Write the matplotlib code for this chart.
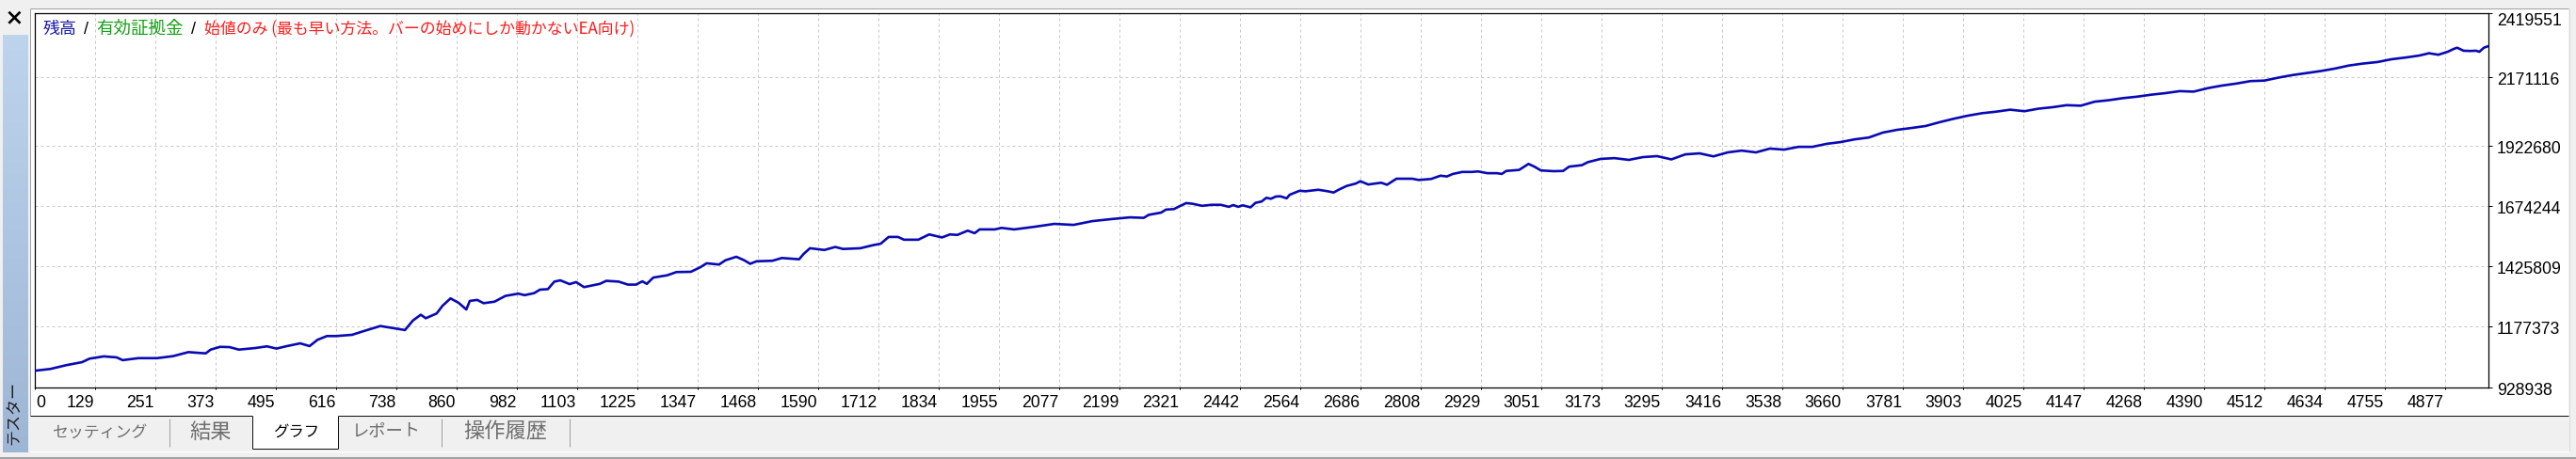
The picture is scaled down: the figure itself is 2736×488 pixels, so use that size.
import numpy as np
import matplotlib
matplotlib.use("Agg")
import matplotlib.pyplot as plt
from matplotlib.transforms import blended_transform_factory, offset_copy
from matplotlib.lines import Line2D
from matplotlib.patches import Rectangle

# ---------------- data ----------------
bars = [0, 31, 63, 95, 110, 139, 165, 177, 209, 247, 279, 310, 345, 355, 374, 393, 412, 444, 469, 488,
        507, 536, 555, 571, 590, 609, 641, 660, 698, 729, 748, 764, 780, 790, 812, 824, 840, 856, 872, 879,
        894, 907, 929, 951, 977,
        990, 1009, 1021, 1037, 1050, 1062, 1081, 1094, 1110, 1142, 1155, 1180, 1199, 1215, 1228, 1237, 1250,
        1278, 1297, 1326, 1345, 1358, 1383, 1396, 1418, 1434, 1446, 1459, 1491, 1510, 1545, 1554, 1567, 1596,
        1618, 1634, 1669, 1694, 1710, 1726, 1745, 1757, 1786, 1808, 1834, 1850, 1865, 1886, 1900, 1910, 1941,
        1954, 1980,
        2023, 2061, 2100, 2138, 2176,
        2214, 2242, 2252, 2277, 2287, 2303, 2315, 2328, 2341, 2360, 2379, 2398, 2414, 2423, 2433, 2442, 2458,
        2468, 2480, 2490, 2499, 2509, 2518, 2531, 2537, 2557, 2569, 2595, 2614, 2626, 2636, 2652, 2671, 2680,
        2696, 2722, 2734, 2753, 2772, 2785, 2798, 2823, 2842, 2855, 2867, 2886, 2905, 2918, 2937, 2956, 2966,
        2975, 3001, 3020, 3032, 3045, 3071, 3090, 3102, 3128, 3140, 3166,
        3194, 3223, 3251, 3280, 3309, 3337, 3366, 3394, 3423, 3451, 3480, 3508, 3537, 3566, 3594, 3623, 3651,
        3680, 3708, 3737, 3766, 3794, 3823, 3851, 3880, 3908, 3937, 3965, 3994, 4023, 4051, 4080, 4108, 4137,
        4165, 4194, 4222, 4251, 4280, 4308, 4337, 4365, 4394, 4422, 4451, 4480, 4508, 4537, 4565, 4594, 4622,
        4651, 4679, 4708, 4737, 4765, 4794, 4822, 4841, 4860, 4879, 4892, 4898, 4911, 4924, 4936, 4943, 4952,
        4959]

balance_k = [996, 1003, 1018, 1030, 1044, 1053, 1049, 1038, 1046, 1046, 1054, 1070, 1065, 1080, 1091, 1090,
             1080, 1086, 1093, 1084, 1093, 1105, 1094, 1119, 1134, 1134, 1139, 1151, 1174, 1164, 1158, 1196,
             1219, 1205, 1224, 1255, 1284, 1267, 1240, 1274, 1278, 1265, 1271, 1294, 1303,
             1297, 1305, 1319, 1321, 1351, 1356, 1341, 1349, 1329, 1342, 1354, 1351, 1339, 1339, 1352, 1342,
             1367, 1376, 1389, 1390, 1408, 1424, 1419, 1436, 1450, 1436, 1422, 1432, 1434, 1445, 1440, 1461,
             1484, 1477, 1489, 1481, 1484, 1496, 1502, 1529, 1529, 1518, 1518, 1539, 1527, 1539, 1537, 1554,
             1544, 1559, 1559, 1565, 1559,
             1570, 1581, 1577, 1592, 1600,
             1607, 1605, 1617, 1626, 1638, 1640, 1652, 1664, 1661, 1653, 1657, 1657, 1649, 1656, 1649, 1655,
             1647, 1665, 1670, 1685, 1681, 1690, 1691, 1683, 1697, 1713, 1711, 1717, 1711, 1706, 1717, 1732,
             1742, 1751, 1738, 1745, 1737, 1761, 1761, 1761, 1756, 1760, 1773, 1770, 1780, 1788, 1788, 1790,
             1783, 1783, 1780, 1792, 1796, 1820, 1809, 1794, 1791, 1792, 1809, 1815, 1827, 1840,
             1843, 1836, 1847, 1851, 1838, 1858, 1862, 1850, 1866, 1873, 1866, 1881, 1877, 1888, 1888, 1900,
             1907, 1918, 1925, 1945, 1956, 1963, 1971, 1986, 2000, 2012, 2022, 2028, 2036, 2030, 2040, 2046,
             2054, 2052, 2068, 2074, 2082, 2088, 2096, 2102, 2110, 2108, 2122, 2132, 2140, 2150, 2152, 2164,
             2174, 2182, 2190, 2200, 2212, 2220, 2226, 2237, 2244, 2252, 2261, 2255, 2267, 2279, 2283, 2271,
             2270, 2271, 2267, 2283, 2288]

x_tick_labels = ["0", "129", "251", "373", "495", "616", "738", "860", "982", "1103", "1225", "1347",
                 "1468", "1590", "1712", "1834", "1955", "2077", "2199", "2321", "2442", "2564", "2686",
                 "2808", "2929", "3051", "3173", "3295", "3416", "3538", "3660", "3781", "3903", "4025",
                 "4147", "4268", "4390", "4512", "4634", "4755", "4877"]
y_tick_labels = ["928938", "1177373", "1425809", "1674244", "1922680", "2171116", "2419551"]

legend_texts = ["残高", "有効証拠金", "始値のみ (最も早い方法。バーの始めにしか動かないEA向け)"]
tab_names = ["セッティング", "結果", "グラフ", "レポート", "操作履歴"]
side_title = "テスター"

# ---------------- layout / style ----------------
W, H, DPI = 2736, 488, 100
BG = "#f0f0f0"
LINE_BLUE = "#0a0ab4"
NUM_FONT = ["Liberation Sans", "DejaVu Sans"]
JP_FONT = ["Noto Sans CJK JP", "DejaVu Sans"]

def fx(px):
    return px / W

def fy(py):
    return 1 - py / H

fig = plt.figure(figsize=(W / DPI, H / DPI), dpi=DPI, facecolor=BG)
renderer = fig.canvas.get_renderer()

def hline(x0, x1, y, color, lw_px=1.0, z=3):
    fig.add_artist(Line2D([fx(x0), fx(x1)], [fy(y), fy(y)], transform=fig.transFigure,
                          color=color, lw=lw_px * 0.72, zorder=z, solid_capstyle="butt"))

def vline(x, y0, y1, color, lw_px=1.0, z=3):
    fig.add_artist(Line2D([fx(x), fx(x)], [fy(y0), fy(y1)], transform=fig.transFigure,
                          color=color, lw=lw_px * 0.72, zorder=z, solid_capstyle="butt"))

def fit_text(x, y, s, width_px, max_pt, color, ha="left", rotation=0, family=JP_FONT):
    t = fig.text(fx(x), fy(y), s, color=color, fontsize=max_pt, family=family,
                 ha=ha, va="center", rotation=rotation, zorder=5)
    bb = t.get_window_extent(renderer)
    length = bb.height if rotation else bb.width
    if length > width_px:
        t.set_fontsize(max_pt * width_px / length)
    return t

# white panel behind chart
fig.add_artist(Rectangle((fx(32.3), fy(441.7)), (2728.3 - 32.3) / W, (441.7 - 9.3) / H,
                         transform=fig.transFigure, facecolor="white", edgecolor="none", zorder=-2))
hline(32.3, 2728.3, 9.3, "#a0a0a0")
vline(32.3, 9.3, 441.7, "#a0a0a0")
vline(2728.5, 9.3, 480, "#d8d8d8")

# chart axes
ax_l, ax_r, ax_t, ax_b = 37.3, 2643.3, 14.3, 412.0
ax = fig.add_axes([fx(ax_l), fy(ax_b), (ax_r - ax_l) / W, (ax_b - ax_t) / H])
ax.set_facecolor("white")
ymin, ymax = 928938, 2419551
xmax = (ax_r - ax_l) * 1.904
x_step = 64.0 * 1.904
ax.set_xlim(0, xmax)
ax.set_ylim(ymin, ymax)

x_tick_pos = [i * x_step for i in range(len(x_tick_labels))]
# MT4 grid rows (pixel rows of the reference grid, bottom -> top)
grid_rows_px = [412.0, 347.0, 283.0, 219.0, 155.0, 81.7, 14.3]
px_per_val = (ymax - ymin) / (ax_b - ax_t)
y_tick_pos = [ymin + (ax_b - r) * px_per_val for r in grid_rows_px]

ax.set_xticks(x_tick_pos)
ax.set_yticks(y_tick_pos)
ax.tick_params(axis="x", bottom=True, top=False, direction="out", length=1.6, width=0.72,
               color="black", labelbottom=False)
ax.tick_params(axis="y", left=False, right=True, direction="out", length=2.6, width=0.72,
               color="black", labelleft=False, labelright=False)
ax.grid(True, color="#c8c8c8", linestyle=(0, (3, 3)), linewidth=0.72)
ax.set_axisbelow(True)
for sp in ax.spines.values():
    sp.set_color("black")
    sp.set_linewidth(0.9)

balance = np.array(balance_k) * 1000
ax.plot(bars, balance, color=LINE_BLUE, lw=1.9, solid_joinstyle="round", zorder=3)

# y labels
tr_y = blended_transform_factory(ax.transAxes, ax.transData)
for i, (v, lab) in enumerate(zip(y_tick_pos, y_tick_labels)):
    dy = -12.7 if i == len(y_tick_labels) - 1 else -8.3
    ax.text(1.0, v, lab, transform=offset_copy(tr_y, fig=fig, x=8.4, y=dy, units="dots"),
            ha="left", va="baseline", fontsize=12.7, family=NUM_FONT, color="black", clip_on=False)

# x labels
tr_x = blended_transform_factory(ax.transData, ax.transAxes)
for i, (p, lab) in enumerate(zip(x_tick_pos, x_tick_labels)):
    if i == 0:
        ha, dx = "left", 1.2
    else:
        ha, dx = "right", -1.3
    ax.text(p, 0.0, lab, transform=offset_copy(tr_x, fig=fig, x=dx, y=-21.3, units="dots"),
            ha=ha, va="baseline", fontsize=12.7, family=NUM_FONT, color="black", clip_on=False)

# legend text at top left
leg_colors = ["#1a1aa8", "#14a014", "#ff1a1a"]
leg_x = [45.7, 102.7, 217.3]
leg_w = [36, 94, 459]
for s, c, x, w in zip(legend_texts, leg_colors, leg_x, leg_w):
    fit_text(x, 31.3, s, w, 13.3, c)
for sx in [91.7, 205.7]:
    fig.text(fx(sx), fy(31.3), "/", color="black", fontsize=13, family=NUM_FONT,
             ha="center", va="center", zorder=5)

# tab strip
tab_top, tab_bot = 441.7, 476.7
act_l, act_r = 268.3, 359.3
hline(32.3, act_l, tab_top, "#101010")
hline(act_r, 2728.3, tab_top, "#101010")
fig.add_artist(Rectangle((fx(act_l), fy(tab_bot)), (act_r - act_l) / W, (tab_bot - tab_top) / H,
                         transform=fig.transFigure, facecolor="white", edgecolor="none", zorder=2))
vline(act_l, tab_top, tab_bot, "#101010")
vline(act_r, tab_top, tab_bot, "#101010")
hline(act_l, act_r, tab_bot, "#101010")
for sx in [180.0, 469.3, 605.0]:
    vline(sx, 445, 475, "#a0a0a0")
tab_cx = [106, 224, 314.7, 410, 537]
tab_w = [101.7, 45.7, 49.3, 73.3, 91.6]
for i, (name, cx, w) in enumerate(zip(tab_names, tab_cx, tab_w)):
    col = "black" if name == "グラフ" else "#6e6e6e"
    fit_text(cx, 459.3, name, w, 16, col, ha="center")

hline(32.3, 2729, 479.5, "white", lw_px=1.2)
hline(0, W, 486.8, "#a0a0a0", lw_px=2.0)

# left sidebar with gradient
sax = fig.add_axes([fx(3.3), fy(481), (30.3 - 3.3) / W, (481 - 37) / H])
top_c = np.array(matplotlib.colors.to_rgb("#bed4ed"))
bot_c = np.array(matplotlib.colors.to_rgb("#9db6d5"))
tgrad = np.linspace(0, 1, 256)[:, None, None]
grad = top_c[None, None, :] * (1 - tgrad) + bot_c[None, None, :] * tgrad
sax.imshow(grad, aspect="auto", extent=(0, 1, 0, 1))
sax.set_axis_off()
fit_text(14.5, 439, side_title, 68, 13, "#1e1e1e", ha="center", rotation=90)

# close "X" mark
fig.add_artist(Line2D([fx(10.3), fx(20.5)], [fy(13.6), fy(23.8)], transform=fig.transFigure,
                      color="black", lw=1.9, zorder=5))
fig.add_artist(Line2D([fx(10.3), fx(20.5)], [fy(23.8), fy(13.6)], transform=fig.transFigure,
                      color="black", lw=1.9, zorder=5))

fig.savefig("out.png", dpi=DPI, facecolor=BG)
